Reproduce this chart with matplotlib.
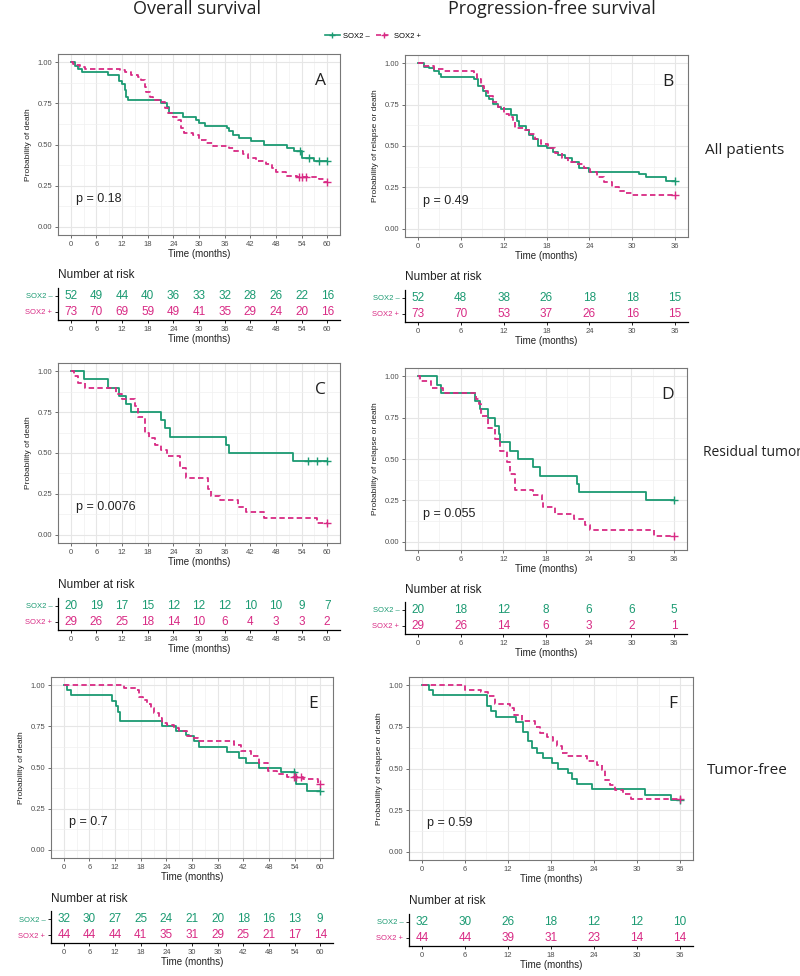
import matplotlib.pyplot as plt
import numpy as np
from matplotlib.lines import Line2D

W, H = 800, 976
GREEN = '#1b9a72'
PINK = '#d82a84'

plt.rcParams['font.family'] = ['Liberation Sans', 'DejaVu Sans']

# ---- Kaplan-Meier step data (time in months, survival after step), censor times ----
# A: overall survival, all patients
a_neg_t = [0, 1.0, 1.6, 2.6, 8.8, 11.3, 11.9, 12.7, 13.0, 13.4, 21.2, 22.4, 23.0, 26.2, 29.3, 30.0,
           31.3, 36.5, 37.1, 37.9, 39.4, 42.2, 45.3, 50.5, 52.3, 54.0, 56.9]
a_neg_s = [1, .98, .96, .94, .92, .885, .865, .83, .79, .77, .75, .73, .69, .67, .65, .63,
           .615, .60, .58, .56, .54, .52, .50, .48, .46, .42, .40]
a_neg_c = [53.7, 55.8, 58.0, 60.0]
a_pos_t = [0, 0.6, 1.2, 2.2, 3.3, 11.5, 12.7, 14.2, 15.8, 16.5, 17.3, 17.7, 18.5, 19.3, 20.8, 22.0,
           22.7, 23.9, 25.1, 25.9, 26.6, 28.6, 30.0, 31.7, 33.2, 37.1, 38.3, 40.2, 41.4, 43.3, 45.7,
           47.2, 48.0, 50.3, 53.0, 58.1, 59.2]
a_pos_s = [1, .99, .985, .97, .96, .95, .94, .92, .91, .89, .85, .82, .79, .77, .76, .72,
           .69, .67, .65, .60, .57, .56, .53, .51, .49, .48, .46, .44, .42, .40, .38,
           .36, .33, .31, .30, .29, .27]
a_pos_c = [53.4, 54.2, 55.0, 60.0]

# B: progression-free survival, all patients
b_neg_t = [0, 0.85, 1.55, 2.25, 2.96, 3.2, 7.9, 8.4, 9.1, 9.5, 10.0, 10.5, 11.2, 11.65, 13.1, 13.9,
           14.2, 15.2, 15.6, 16.1, 16.8, 18.0, 18.9, 19.6, 20.6, 21.5, 22.5, 23.9, 30.9, 31.9, 34.7]
b_neg_s = [1, .98, .97, .955, .935, .92, .905, .865, .835, .805, .785, .755, .735, .725, .685, .65,
           .62, .595, .565, .545, .50, .485, .465, .445, .425, .405, .37, .345, .33, .315, .29]
b_neg_c = [36.0]
b_pos_t = [0, 0.85, 2.25, 3.7, 7.9, 8.3, 8.8, 9.3, 9.8, 10.5, 11.2, 12.1, 12.8, 13.3, 13.6, 14.8,
           15.6, 16.4, 17.3, 18.2, 19.2, 20.1, 21.0, 22.0, 23.2, 24.1, 25.0, 26.0, 27.2, 28.1, 29.0, 30.0]
b_pos_s = [1, .985, .965, .955, .935, .905, .865, .835, .805, .765, .735, .695, .675, .645, .61, .595,
           .575, .545, .515, .485, .455, .425, .405, .39, .37, .34, .31, .28, .25, .23, .215, .205]
b_pos_c = [36.0]

# C: overall survival, residual tumor
c_neg_t = [0, 3.2, 8.8, 11.3, 12.8, 14.0, 21.2, 22.1, 23.1, 36.3, 37.0, 52.0]
c_neg_s = [1, .95, .90, .85, .80, .75, .70, .65, .60, .55, .50, .45]
c_neg_c = [55.4, 57.7, 60.0]
c_pos_t = [0, 0.8, 1.6, 3.3, 10.5, 11.9, 15.0, 15.8, 17.3, 18.3, 19.6, 21.2, 22.4, 25.5, 27.0,
           32.1, 32.8, 34.8, 39.1, 41.0, 45.3, 57.7]
c_pos_s = [1, .97, .93, .90, .86, .83, .79, .72, .62, .59, .55, .52, .48, .41, .35,
           .28, .24, .21, .17, .14, .10, .07]
c_pos_c = [60.0]

# D: progression-free survival, residual tumor
d_neg_t = [0, 2.7, 3.3, 8.0, 8.7, 9.9, 10.8, 11.4, 11.6, 12.9, 14.1, 16.2, 17.1, 22.3, 22.6, 32.0]
d_neg_s = [1, .95, .90, .85, .80, .75, .70, .65, .60, .55, .50, .45, .40, .35, .30, .25]
d_neg_c = [36.0]
d_pos_t = [0, 0.3, 1.9, 3.5, 8.2, 8.6, 8.9, 9.9, 10.8, 11.5, 12.5, 12.9, 13.6, 16.2, 17.4, 17.6,
           19.3, 21.9, 23.5, 24.2, 33.2]
d_pos_s = [1, .97, .93, .90, .86, .83, .76, .69, .62, .55, .48, .41, .31, .28, .24, .21,
           .17, .14, .10, .07, .035]
d_pos_c = [36.0]

# E: overall survival, tumor-free
e_neg_t = [0, 0.8, 1.6, 11.3, 12.1, 12.7, 13.1, 22.9, 26.2, 28.5, 29.3, 30.5, 31.6, 38.3, 41.0,
           42.6, 45.7, 50.8, 54.0, 54.3, 57.0]
e_neg_s = [1, .97, .94, .906, .875, .84, .78, .75, .72, .70, .69, .66, .625, .595, .56,
           .53, .50, .47, .44, .40, .36]
e_neg_c = [53.9, 60.0]
e_pos_t = [0, 14.1, 16.8, 17.6, 18.6, 19.5, 20.3, 21.1, 22.3, 23.0, 24.2, 25.8, 27.0, 28.9, 30.0,
           31.3, 39.8, 41.4, 43.8, 45.7, 47.7, 50.0, 52.3, 56.0, 59.5]
e_pos_s = [1, .985, .97, .93, .91, .885, .86, .83, .80, .77, .76, .74, .72, .69, .68,
           .66, .635, .60, .57, .53, .48, .46, .44, .43, .40]
e_pos_c = [53.8, 54.3, 55.5, 60.0]

# F: progression-free survival, tumor-free
f_neg_t = [0, 1.0, 1.5, 9.08, 9.69, 10.39, 13.18, 14.1, 14.8, 15.3, 16.0, 16.9, 18.07, 19.0, 20.4,
           20.9, 21.6, 23.7, 31.1, 34.8]
f_neg_s = [1, .97, .94, .874, .844, .81, .78, .717, .663, .623, .593, .563, .533, .50, .473,
           .437, .409, .379, .343, .313]
f_neg_c = [36.0]
f_pos_t = [0, 5.96, 8.3, 9.2, 10.15, 12.25, 12.9, 13.9, 15.7, 16.4, 17.4, 18.3, 18.8, 19.5, 20.2,
           23.0, 24.4, 25.1, 25.5, 26.2, 26.9, 28.1, 29.2]
f_pos_s = [1, .974, .958, .934, .888, .864, .824, .788, .75, .713, .687, .663, .633, .593, .573,
           .543, .523, .493, .433, .403, .373, .349, .317]
f_pos_c = [36.0]

# ---- numbers at risk ----
a_risk_neg = [52, 49, 44, 40, 36, 33, 32, 28, 26, 22, 16]
a_risk_pos = [73, 70, 69, 59, 49, 41, 35, 29, 24, 20, 16]
b_risk_neg = [52, 48, 38, 26, 18, 18, 15]
b_risk_pos = [73, 70, 53, 37, 26, 16, 15]
c_risk_neg = [20, 19, 17, 15, 12, 12, 12, 10, 10, 9, 7]
c_risk_pos = [29, 26, 25, 18, 14, 10, 6, 4, 3, 3, 2]
d_risk_neg = [20, 18, 12, 8, 6, 6, 5]
d_risk_pos = [29, 26, 14, 6, 3, 2, 1]
e_risk_neg = [32, 30, 27, 25, 24, 21, 20, 18, 16, 13, 9]
e_risk_pos = [44, 44, 44, 41, 35, 31, 29, 25, 21, 17, 14]
f_risk_neg = [32, 30, 26, 18, 12, 12, 10]
f_risk_pos = [44, 44, 39, 31, 23, 14, 14]

p_values = ['p = 0.18', 'p = 0.49', 'p = 0.0076', 'p = 0.055', 'p = 0.7', 'p = 0.59']
letters = ['A', 'B', 'C', 'D', 'E', 'F']
row_labels = ['All patients', 'Residual tumor', 'Tumor-free']

fig = plt.figure(figsize=(W / 100, H / 100), dpi=100)


def px_axes(x0, y0, x1, y1):
    return fig.add_axes([x0 / W, 1 - y1 / H, (x1 - x0) / W, (y1 - y0) / H])


def set_time_axis(ax, tmax):
    pad = tmax * 0.05
    ax.set_xlim(-pad, tmax + pad)
    ax.set_xticks(np.arange(0, tmax + 1, 6))


def km_panel(box, tmax, neg, pos, ylabel, pval, letter):
    ax = px_axes(*box)
    set_time_axis(ax, tmax)
    ax.set_xticks(np.arange(3, tmax, 6), minor=True)
    ax.set_ylim(-0.05, 1.05)
    ax.set_yticks([0, 0.25, 0.5, 0.75, 1.0])
    ax.set_yticklabels(['0.00', '0.25', '0.50', '0.75', '1.00'])
    ax.set_yticks([0.125, 0.375, 0.625, 0.875], minor=True)
    ax.grid(which='major', color='#e6e6e6', lw=0.8)
    ax.grid(which='minor', color='#f0f0f0', lw=0.5)
    ax.set_axisbelow(True)
    for (t, s, cens), col, ls in [(neg, GREEN, '-'), (pos, PINK, (0, (3, 1.8)))]:
        ax.step(t + [tmax], s + [s[-1]], where='post', color=col, lw=1.3, ls=ls)
        idx = np.searchsorted(t, cens, side='right') - 1
        ax.plot(cens, np.array(s)[idx], '+', color=col, ms=6, mew=1.0, ls='none')
    for sp in ax.spines.values():
        sp.set_color('#777777')
        sp.set_linewidth(0.8)
    ax.tick_params(which='major', length=2, width=0.6, color='#555555', labelsize=5.5,
                   labelcolor='#4d4d4d', pad=2)
    ax.tick_params(which='minor', length=0)
    ax.set_xlabel('Time (months)', fontsize=7, labelpad=1, color='#222222')
    ax.set_ylabel(ylabel, fontsize=6, labelpad=4, color='#222222')
    ax.text(0.065, 0.2, pval, transform=ax.transAxes,
            fontsize=9, va='center', ha='left', color='#222222')
    ax.text(0.93, 0.85, letter, transform=ax.transAxes, fontsize=12.5, ha='center', va='center',
            family='Open Sans', color='#222222')
    return ax


def risk_table(box, tmax, neg, pos, title_y):
    ax = px_axes(*box)
    set_time_axis(ax, tmax)
    ax.set_ylim(-0.5, 1.5)
    times = np.arange(0, tmax + 1, 6)
    for x, n in zip(times, neg):
        ax.text(x, 1, str(n), color=GREEN, ha='center', va='center', fontsize=8.5)
    for x, n in zip(times, pos):
        ax.text(x, 0, str(n), color=PINK, ha='center', va='center', fontsize=8.5)
    ax.set_yticks([1, 0])
    ax.set_yticklabels(['SOX2 \u2013', 'SOX2 +'], fontsize=5.5)
    for lab, col in zip(ax.get_yticklabels(), [GREEN, PINK]):
        lab.set_color(col)
    ax.spines['top'].set_visible(False)
    ax.spines['right'].set_visible(False)
    ax.spines['left'].set_linewidth(0.9)
    ax.spines['bottom'].set_linewidth(0.9)
    ax.tick_params(length=2, width=0.6, labelsize=5.5, pad=2)
    ax.tick_params(axis='x', labelcolor='#4d4d4d')
    ax.set_xlabel('Time (months)', fontsize=7, labelpad=1, color='#222222')
    fig.text(box[0] / W, 1 - title_y / H, 'Number at risk', fontsize=8.5, ha='left', va='center',
             color='#222222')
    return ax


km_panel((58, 54, 340, 235), 60, (a_neg_t, a_neg_s, a_neg_c), (a_pos_t, a_pos_s, a_pos_c),
         'Probability of death', p_values[0], letters[0])
km_panel((405, 55, 688, 237), 36, (b_neg_t, b_neg_s, b_neg_c), (b_pos_t, b_pos_s, b_pos_c),
         'Probability of relapse or death', p_values[1], letters[1])
km_panel((58, 363, 340, 543), 60, (c_neg_t, c_neg_s, c_neg_c), (c_pos_t, c_pos_s, c_pos_c),
         'Probability of death', p_values[2], letters[2])
km_panel((405, 368, 687, 550), 36, (d_neg_t, d_neg_s, d_neg_c), (d_pos_t, d_pos_s, d_pos_c),
         'Probability of relapse or death', p_values[3], letters[3])
km_panel((51, 677, 333, 858), 60, (e_neg_t, e_neg_s, e_neg_c), (e_pos_t, e_pos_s, e_pos_c),
         'Probability of death', p_values[4], letters[4])
km_panel((409, 677, 693, 860), 36, (f_neg_t, f_neg_s, f_neg_c), (f_pos_t, f_pos_s, f_pos_c),
         'Probability of relapse or death', p_values[5], letters[5])

risk_table((58, 288, 340, 320), 60, a_risk_neg, a_risk_pos, 275)
risk_table((405, 290, 688, 322), 36, b_risk_neg, b_risk_pos, 277)
risk_table((58, 598, 340, 630), 60, c_risk_neg, c_risk_pos, 585)
risk_table((405, 602, 687, 634), 36, d_risk_neg, d_risk_pos, 590)
risk_table((51, 911, 333, 943), 60, e_risk_neg, e_risk_pos, 899)
risk_table((409, 914, 693, 946), 36, f_risk_neg, f_risk_pos, 901)

# column titles and row labels
fig.text(197 / W, 1 - 9 / H, 'Overall survival', fontsize=13, family='Open Sans',
         ha='center', va='center', color='#222222')
fig.text(552 / W, 1 - 9 / H, 'Progression-free survival', fontsize=13, family='Open Sans',
         ha='center', va='center', color='#222222')
for lab, x, y, fs in zip(row_labels, [705, 703, 707], [150, 452, 771], [11, 10, 11]):
    fig.text(x / W, 1 - y / H, lab, fontsize=fs, family='Open Sans', ha='left', va='center',
             color='#222222')

handles = [Line2D([], [], color=GREEN, marker='+', lw=1.2, ms=5),
           Line2D([], [], color=PINK, marker='+', lw=1.2, ms=5, ls=(0, (3, 1.5)))]
fig.legend(handles, ['SOX2 \u2013', 'SOX2 +'], loc='center', bbox_to_anchor=(373 / W, 1 - 36 / H),
           ncol=2, frameon=False, fontsize=5.5, handlelength=2.0, columnspacing=0.8,
           handletextpad=0.4)

fig.savefig('out.png', dpi=100)
